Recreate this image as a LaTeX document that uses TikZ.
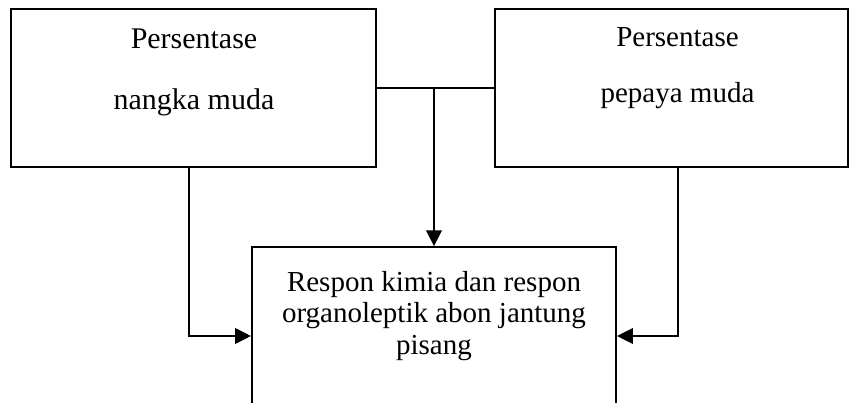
\documentclass[tikz,border=0pt]{standalone}
\usepackage{fontspec}
\setmainfont{Liberation Serif}
\usetikzlibrary{arrows.meta}
\tikzset{
var box/.style = { rectangle, draw = black, line width = 0.9pt, fill = white, inner sep = 0pt },
box text/.style = { black, inner sep = 0pt, font = \fontsize{12pt}{13.2pt}\selectfont },
link/.style = { draw = black, line width = 0.45pt },
link arrow/.style = { link, -{Triangle[length = 6.5pt, width = 6.5pt]} },
}

\begin{document}
\begin{tikzpicture}[x = 0.4138pt, y = -0.4138pt]
    \path[use as bounding box, clip] (0, 0) rectangle (849, 403);
    % boxes
    \node[var box, minimum width = 151pt, minimum height = 65.4pt] (nangka) at (193.5, 88) {};
    \node[var box, minimum width = 146.1pt, minimum height = 65.4pt] (pepaya) at (671.5, 88) {};
    \node[var box, minimum width = 150.6pt, minimum height = 124pt] (respon) at (434, 397) {};
    % texts
    \node[box text, anchor = base, font = \fontsize{12.4pt}{14pt}\selectfont] (nangka1) at (194, 48) {Persentase};
    \node[box text, anchor = base, font = \fontsize{12.4pt}{14pt}\selectfont] (nangka2) at (194, 109) {nangka muda};
    \node[box text, anchor = base] (pepaya1) at (677.5, 47) {Persentase};
    \node[box text, anchor = base] (pepaya2) at (677.5, 102) {pepaya muda};
    \node[box text, align = center] (responteks) at (434, 316) {Respon kimia dan respon\\organoleptik abon jantung\\pisang};
    % connectors
    \coordinate (kiri) at (189, 336);
    \coordinate (kanan) at (678, 336);
    \draw[link] (nangka.east) -- (pepaya.west);
    \draw[link arrow, line width = 0.7pt] (respon.north |- nangka.east) -- (respon.north);
    \draw[link arrow] (nangka.south -| kiri) |- (respon.west |- kiri);
    \draw[link arrow] (pepaya.south -| kanan) |- (respon.east |- kanan);
\end{tikzpicture}
\end{document}
